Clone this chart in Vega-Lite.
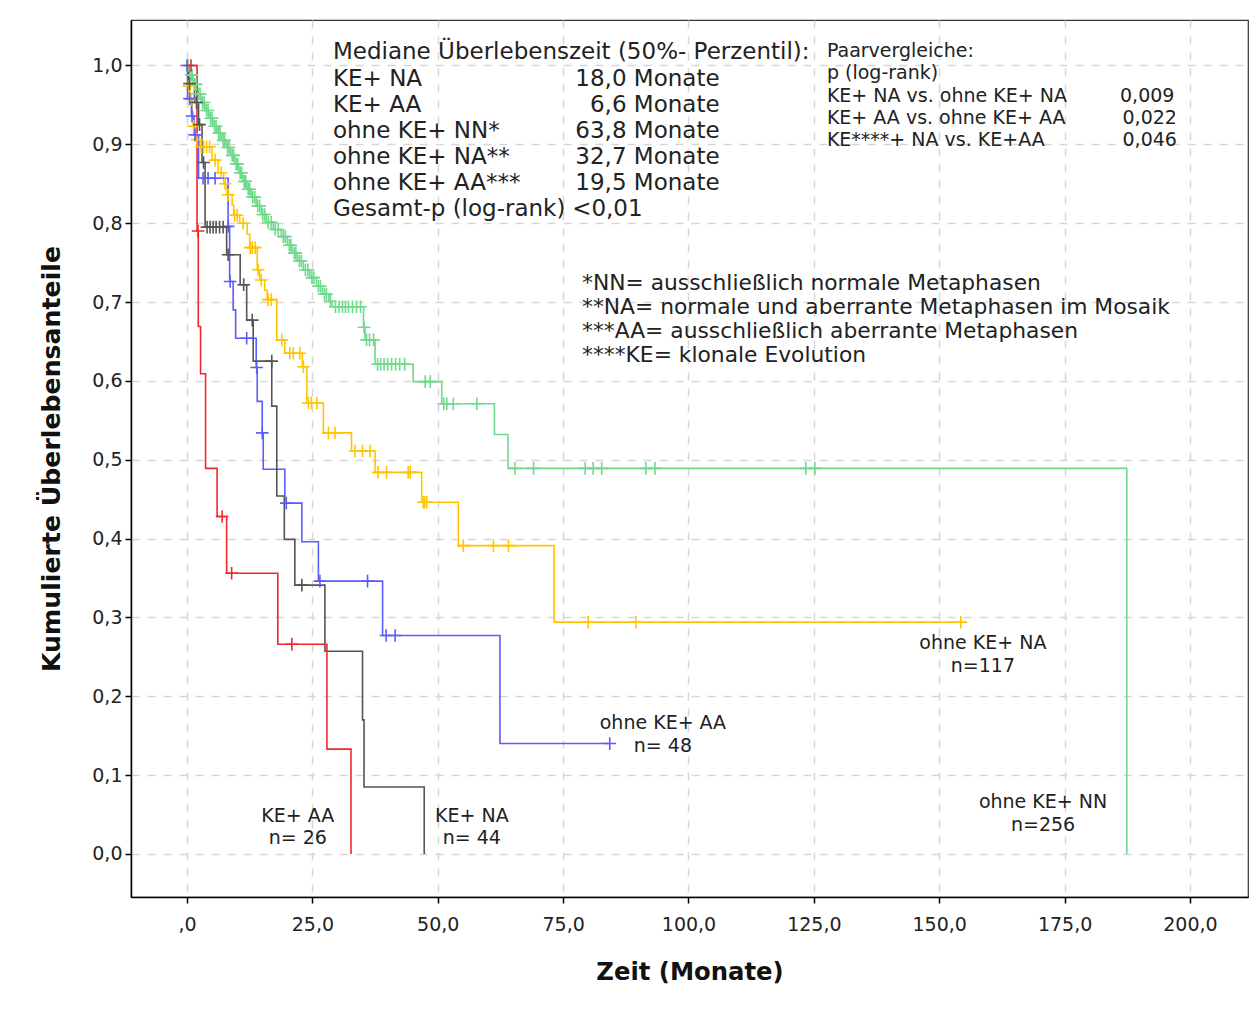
{
  "$schema": "https://vega.github.io/schema/vega-lite/v6.json",
  "width": 1117,
  "height": 877,
  "autosize": {"type": "none"},
  "padding": {"left": 131, "top": 20, "right": 12, "bottom": 113},
  "background": "white",
  "config": {
    "view": {"stroke": "#333333", "strokeWidth": 1.2},
    "font": "DejaVu Sans",
    "text": {"font": "DejaVu Sans", "color": "#222222"}
  },
  "datasets": {
    "steps": [
      {"g":"NN","t":0,"s":1.0},{"g":"NN","t":0.5,"s":0.988},{"g":"NN","t":1.2,"s":0.976},{"g":"NN","t":2.0,"s":0.964},{"g":"NN","t":2.8,"s":0.953},{"g":"NN","t":3.6,"s":0.943},{"g":"NN","t":4.4,"s":0.933},{"g":"NN","t":5.2,"s":0.923},{"g":"NN","t":6.0,"s":0.914},{"g":"NN","t":6.9,"s":0.905},{"g":"NN","t":7.8,"s":0.896},{"g":"NN","t":8.7,"s":0.886},{"g":"NN","t":9.5,"s":0.875},{"g":"NN","t":10.3,"s":0.864},{"g":"NN","t":11.1,"s":0.853},{"g":"NN","t":11.9,"s":0.843},{"g":"NN","t":12.8,"s":0.833},{"g":"NN","t":13.8,"s":0.822},{"g":"NN","t":14.8,"s":0.811},{"g":"NN","t":15.8,"s":0.801},{"g":"NN","t":17.2,"s":0.792},{"g":"NN","t":18.8,"s":0.783},{"g":"NN","t":20.0,"s":0.772},{"g":"NN","t":21.0,"s":0.762},{"g":"NN","t":22.0,"s":0.752},{"g":"NN","t":23.2,"s":0.741},{"g":"NN","t":24.5,"s":0.731},{"g":"NN","t":25.8,"s":0.72},{"g":"NN","t":27.0,"s":0.71},{"g":"NN","t":28.3,"s":0.701},{"g":"NN","t":29.0,"s":0.694},{"g":"NN","t":35.2,"s":0.668},{"g":"NN","t":35.5,"s":0.652},{"g":"NN","t":37.5,"s":0.621},{"g":"NN","t":45.1,"s":0.599},{"g":"NN","t":50.8,"s":0.571},{"g":"NN","t":61.3,"s":0.532},{"g":"NN","t":64.0,"s":0.489},{"g":"NN","t":187.4,"s":0.0},
      {"g":"NA","t":0,"s":1.0},{"g":"NA","t":0.3,"s":0.974},{"g":"NA","t":0.6,"s":0.957},{"g":"NA","t":1.0,"s":0.94},{"g":"NA","t":1.2,"s":0.923},{"g":"NA","t":1.6,"s":0.906},{"g":"NA","t":2.4,"s":0.897},{"g":"NA","t":5.0,"s":0.88},{"g":"NA","t":6.2,"s":0.864},{"g":"NA","t":7.3,"s":0.85},{"g":"NA","t":8.0,"s":0.836},{"g":"NA","t":9.0,"s":0.823},{"g":"NA","t":9.3,"s":0.81},{"g":"NA","t":10.5,"s":0.8},{"g":"NA","t":12.0,"s":0.786},{"g":"NA","t":12.5,"s":0.769},{"g":"NA","t":14.0,"s":0.741},{"g":"NA","t":14.5,"s":0.728},{"g":"NA","t":15.5,"s":0.715},{"g":"NA","t":16.0,"s":0.703},{"g":"NA","t":17.9,"s":0.652},{"g":"NA","t":19.5,"s":0.635},{"g":"NA","t":23.0,"s":0.618},{"g":"NA","t":23.9,"s":0.572},{"g":"NA","t":27.2,"s":0.534},{"g":"NA","t":32.8,"s":0.511},{"g":"NA","t":37.5,"s":0.484},{"g":"NA","t":46.8,"s":0.446},{"g":"NA","t":54.1,"s":0.391},{"g":"NA","t":73.2,"s":0.294},{"g":"NA","t":154.3,"s":0.294},
      {"g":"AA","t":0,"s":1.0},{"g":"AA","t":0.1,"s":0.958},{"g":"AA","t":0.9,"s":0.936},{"g":"AA","t":1.4,"s":0.912},{"g":"AA","t":2.3,"s":0.857},{"g":"AA","t":8.2,"s":0.796},{"g":"AA","t":8.5,"s":0.726},{"g":"AA","t":9.2,"s":0.69},{"g":"AA","t":9.7,"s":0.654},{"g":"AA","t":13.8,"s":0.617},{"g":"AA","t":14.0,"s":0.574},{"g":"AA","t":15.0,"s":0.534},{"g":"AA","t":15.2,"s":0.488},{"g":"AA","t":19.5,"s":0.445},{"g":"AA","t":22.9,"s":0.396},{"g":"AA","t":26.2,"s":0.346},{"g":"AA","t":39.0,"s":0.277},{"g":"AA","t":62.4,"s":0.14},{"g":"AA","t":84.3,"s":0.14},
      {"g":"KNA","t":0,"s":1.0},{"g":"KNA","t":0.3,"s":0.977},{"g":"KNA","t":1.5,"s":0.953},{"g":"KNA","t":2.3,"s":0.925},{"g":"KNA","t":3.0,"s":0.877},{"g":"KNA","t":3.6,"s":0.795},{"g":"KNA","t":7.9,"s":0.76},{"g":"KNA","t":10.6,"s":0.722},{"g":"KNA","t":11.9,"s":0.677},{"g":"KNA","t":13.2,"s":0.625},{"g":"KNA","t":16.9,"s":0.568},{"g":"KNA","t":17.9,"s":0.454},{"g":"KNA","t":19.4,"s":0.399},{"g":"KNA","t":21.5,"s":0.341},{"g":"KNA","t":27.5,"s":0.257},{"g":"KNA","t":35.0,"s":0.17},{"g":"KNA","t":35.3,"s":0.085},{"g":"KNA","t":47.3,"s":0.0},
      {"g":"KAA","t":0,"s":1.0},{"g":"KAA","t":2.0,"s":0.79},{"g":"KAA","t":2.25,"s":0.669},{"g":"KAA","t":2.7,"s":0.609},{"g":"KAA","t":3.7,"s":0.489},{"g":"KAA","t":6.0,"s":0.428},{"g":"KAA","t":7.9,"s":0.356},{"g":"KAA","t":18.1,"s":0.266},{"g":"KAA","t":27.9,"s":0.133},{"g":"KAA","t":32.7,"s":0.0}
    ],
    "censored": [
      {"g":"NN","t":0.2,"s":1.0},{"g":"NN","t":0.8,"s":0.988},{"g":"NN","t":1.0,"s":0.988},{"g":"NN","t":1.5,"s":0.976},{"g":"NN","t":1.8,"s":0.976},{"g":"NN","t":2.3,"s":0.964},{"g":"NN","t":2.6,"s":0.964},{"g":"NN","t":3.1,"s":0.953},{"g":"NN","t":3.4,"s":0.953},{"g":"NN","t":3.9,"s":0.943},{"g":"NN","t":4.2,"s":0.943},{"g":"NN","t":4.7,"s":0.933},{"g":"NN","t":5.0,"s":0.933},{"g":"NN","t":5.5,"s":0.923},{"g":"NN","t":5.8,"s":0.923},{"g":"NN","t":6.3,"s":0.914},{"g":"NN","t":6.6,"s":0.914},{"g":"NN","t":7.2,"s":0.905},{"g":"NN","t":7.5,"s":0.905},{"g":"NN","t":8.1,"s":0.896},{"g":"NN","t":8.4,"s":0.896},{"g":"NN","t":9.0,"s":0.886},{"g":"NN","t":9.3,"s":0.886},{"g":"NN","t":9.8,"s":0.875},{"g":"NN","t":10.1,"s":0.875},{"g":"NN","t":10.6,"s":0.864},{"g":"NN","t":10.9,"s":0.864},{"g":"NN","t":11.4,"s":0.853},{"g":"NN","t":11.7,"s":0.853},{"g":"NN","t":12.2,"s":0.843},{"g":"NN","t":12.5,"s":0.843},{"g":"NN","t":13.1,"s":0.833},{"g":"NN","t":13.5,"s":0.833},{"g":"NN","t":14.1,"s":0.822},{"g":"NN","t":14.5,"s":0.822},{"g":"NN","t":15.1,"s":0.811},{"g":"NN","t":15.5,"s":0.811},{"g":"NN","t":16.2,"s":0.801},{"g":"NN","t":16.8,"s":0.801},{"g":"NN","t":17.6,"s":0.792},{"g":"NN","t":18.2,"s":0.792},{"g":"NN","t":19.2,"s":0.783},{"g":"NN","t":19.6,"s":0.783},{"g":"NN","t":20.4,"s":0.772},{"g":"NN","t":20.7,"s":0.772},{"g":"NN","t":21.4,"s":0.762},{"g":"NN","t":21.7,"s":0.762},{"g":"NN","t":22.4,"s":0.752},{"g":"NN","t":22.8,"s":0.752},{"g":"NN","t":23.6,"s":0.741},{"g":"NN","t":24.1,"s":0.741},{"g":"NN","t":24.9,"s":0.731},{"g":"NN","t":25.3,"s":0.731},{"g":"NN","t":26.2,"s":0.72},{"g":"NN","t":26.6,"s":0.72},{"g":"NN","t":27.4,"s":0.71},{"g":"NN","t":27.8,"s":0.71},{"g":"NN","t":28.6,"s":0.701},{"g":"NN","t":29.6,"s":0.694},{"g":"NN","t":30.3,"s":0.694},{"g":"NN","t":31.0,"s":0.694},{"g":"NN","t":31.6,"s":0.694},{"g":"NN","t":32.2,"s":0.694},{"g":"NN","t":33.0,"s":0.694},{"g":"NN","t":33.8,"s":0.694},{"g":"NN","t":34.6,"s":0.694},{"g":"NN","t":35.3,"s":0.668},{"g":"NN","t":35.8,"s":0.652},{"g":"NN","t":36.4,"s":0.652},{"g":"NN","t":37.2,"s":0.652},{"g":"NN","t":38.0,"s":0.621},{"g":"NN","t":38.6,"s":0.621},{"g":"NN","t":39.3,"s":0.621},{"g":"NN","t":40.0,"s":0.621},{"g":"NN","t":40.8,"s":0.621},{"g":"NN","t":41.6,"s":0.621},{"g":"NN","t":42.4,"s":0.621},{"g":"NN","t":43.4,"s":0.621},{"g":"NN","t":47.5,"s":0.599},{"g":"NN","t":48.5,"s":0.599},{"g":"NN","t":51.2,"s":0.571},{"g":"NN","t":51.8,"s":0.571},{"g":"NN","t":53.1,"s":0.571},{"g":"NN","t":57.8,"s":0.571},{"g":"NN","t":65.4,"s":0.489},{"g":"NN","t":69.1,"s":0.489},{"g":"NN","t":79.4,"s":0.489},{"g":"NN","t":81.0,"s":0.489},{"g":"NN","t":82.7,"s":0.489},{"g":"NN","t":91.5,"s":0.489},{"g":"NN","t":93.3,"s":0.489},{"g":"NN","t":123.4,"s":0.489},{"g":"NN","t":125.2,"s":0.489},
      {"g":"NA","t":0.4,"s":0.974},{"g":"NA","t":0.8,"s":0.957},{"g":"NA","t":1.3,"s":0.923},{"g":"NA","t":2.0,"s":0.906},{"g":"NA","t":2.8,"s":0.897},{"g":"NA","t":3.3,"s":0.897},{"g":"NA","t":3.9,"s":0.897},{"g":"NA","t":4.5,"s":0.897},{"g":"NA","t":5.6,"s":0.88},{"g":"NA","t":6.8,"s":0.864},{"g":"NA","t":7.6,"s":0.85},{"g":"NA","t":8.2,"s":0.836},{"g":"NA","t":9.5,"s":0.81},{"g":"NA","t":10.0,"s":0.81},{"g":"NA","t":11.2,"s":0.8},{"g":"NA","t":12.6,"s":0.769},{"g":"NA","t":13.0,"s":0.769},{"g":"NA","t":13.6,"s":0.769},{"g":"NA","t":14.2,"s":0.741},{"g":"NA","t":14.8,"s":0.728},{"g":"NA","t":16.2,"s":0.703},{"g":"NA","t":16.8,"s":0.703},{"g":"NA","t":18.9,"s":0.652},{"g":"NA","t":20.5,"s":0.635},{"g":"NA","t":21.2,"s":0.635},{"g":"NA","t":22.5,"s":0.635},{"g":"NA","t":23.2,"s":0.618},{"g":"NA","t":24.2,"s":0.572},{"g":"NA","t":24.8,"s":0.572},{"g":"NA","t":25.9,"s":0.572},{"g":"NA","t":28.2,"s":0.534},{"g":"NA","t":29.5,"s":0.534},{"g":"NA","t":33.5,"s":0.511},{"g":"NA","t":35.0,"s":0.511},{"g":"NA","t":36.5,"s":0.511},{"g":"NA","t":38.1,"s":0.484},{"g":"NA","t":39.8,"s":0.484},{"g":"NA","t":44.1,"s":0.484},{"g":"NA","t":44.5,"s":0.484},{"g":"NA","t":47.1,"s":0.446},{"g":"NA","t":47.4,"s":0.446},{"g":"NA","t":47.8,"s":0.446},{"g":"NA","t":55.1,"s":0.391},{"g":"NA","t":61.1,"s":0.391},{"g":"NA","t":64.1,"s":0.391},{"g":"NA","t":80.0,"s":0.294},{"g":"NA","t":89.5,"s":0.294},{"g":"NA","t":154.3,"s":0.294},
      {"g":"AA","t":0,"s":1.0},{"g":"AA","t":0.5,"s":0.958},{"g":"AA","t":1.0,"s":0.936},{"g":"AA","t":1.6,"s":0.912},{"g":"AA","t":3.2,"s":0.857},{"g":"AA","t":4.2,"s":0.857},{"g":"AA","t":5.6,"s":0.857},{"g":"AA","t":8.2,"s":0.796},{"g":"AA","t":8.6,"s":0.726},{"g":"AA","t":11.9,"s":0.654},{"g":"AA","t":13.9,"s":0.617},{"g":"AA","t":15.0,"s":0.534},{"g":"AA","t":19.8,"s":0.445},{"g":"AA","t":26.5,"s":0.346},{"g":"AA","t":36.0,"s":0.346},{"g":"AA","t":39.7,"s":0.277},{"g":"AA","t":41.5,"s":0.277},{"g":"AA","t":84.3,"s":0.14},
      {"g":"KNA","t":0.5,"s":0.977},{"g":"KNA","t":1.9,"s":0.953},{"g":"KNA","t":2.5,"s":0.925},{"g":"KNA","t":3.3,"s":0.877},{"g":"KNA","t":4.0,"s":0.795},{"g":"KNA","t":4.6,"s":0.795},{"g":"KNA","t":5.2,"s":0.795},{"g":"KNA","t":5.8,"s":0.795},{"g":"KNA","t":6.5,"s":0.795},{"g":"KNA","t":7.2,"s":0.795},{"g":"KNA","t":8.2,"s":0.76},{"g":"KNA","t":11.3,"s":0.722},{"g":"KNA","t":13.0,"s":0.677},{"g":"KNA","t":16.9,"s":0.625},{"g":"KNA","t":22.9,"s":0.341},
      {"g":"KAA","t":0.8,"s":1.0},{"g":"KAA","t":2.2,"s":0.79},{"g":"KAA","t":7.0,"s":0.428},{"g":"KAA","t":8.9,"s":0.356},{"g":"KAA","t":20.9,"s":0.266}
    ],
    "labels": [
      {"b":"m","t":29.1,"s":1.0165,"txt":"Mediane Überlebenszeit (50%- Perzentil):"},
      {"b":"m","t":29.1,"s":0.9835,"txt":"KE+ NA"},
      {"b":"m","t":29.1,"s":0.9505,"txt":"KE+ AA"},
      {"b":"m","t":29.1,"s":0.9175,"txt":"ohne KE+ NN*"},
      {"b":"m","t":29.1,"s":0.8845,"txt":"ohne KE+ NA**"},
      {"b":"m","t":29.1,"s":0.8515,"txt":"ohne KE+ AA***"},
      {"b":"m","t":29.1,"s":0.8185,"txt":"Gesamt-p (log-rank)"},
      {"b":"m","t":76.8,"s":0.8185,"txt":"<0,01"},
      {"b":"mr","t":106.2,"s":0.9835,"txt":"18,0 Monate"},
      {"b":"mr","t":106.2,"s":0.9505,"txt":"6,6 Monate"},
      {"b":"mr","t":106.2,"s":0.9175,"txt":"63,8 Monate"},
      {"b":"mr","t":106.2,"s":0.8845,"txt":"32,7 Monate"},
      {"b":"mr","t":106.2,"s":0.8515,"txt":"19,5 Monate"},
      {"b":"n","t":78.76,"s":0.7246,"txt":"*NN= ausschließlich normale Metaphasen"},
      {"b":"n","t":78.76,"s":0.6942,"txt":"**NA= normale und aberrante Metaphasen im Mosaik"},
      {"b":"n","t":78.76,"s":0.6637,"txt":"***AA= ausschließlich aberrante Metaphasen"},
      {"b":"n","t":78.76,"s":0.6332,"txt":"****KE= klonale Evolution"},
      {"b":"p","t":127.6,"s":1.019,"txt":"Paarvergleiche:"},
      {"b":"p","t":127.6,"s":0.9911,"txt":"p (log-rank)"},
      {"b":"p","t":127.6,"s":0.9619,"txt":"KE+ NA vs. ohne KE+ NA"},
      {"b":"p","t":127.6,"s":0.934,"txt":"KE+ AA vs. ohne KE+ AA"},
      {"b":"p","t":127.6,"s":0.9061,"txt":"KE****+ NA vs. KE+AA"},
      {"b":"pr","t":196.9,"s":0.9619,"txt":"0,009"},
      {"b":"pr","t":197.4,"s":0.934,"txt":"0,022"},
      {"b":"pr","t":197.4,"s":0.9061,"txt":"0,046"},
      {"b":"c","t":158.7,"s":0.2678,"txt":"ohne KE+ NA"},
      {"b":"c","t":158.7,"s":0.2386,"txt":"n=117"},
      {"b":"c","t":94.9,"s":0.1662,"txt":"ohne KE+ AA"},
      {"b":"c","t":94.9,"s":0.1371,"txt":"n= 48"},
      {"b":"c","t":170.7,"s":0.066,"txt":"ohne KE+ NN"},
      {"b":"c","t":170.7,"s":0.0368,"txt":"n=256"},
      {"b":"c","t":22.1,"s":0.0482,"txt":"KE+ AA"},
      {"b":"c","t":22.1,"s":0.0203,"txt":"n= 26"},
      {"b":"c","t":56.8,"s":0.0482,"txt":"KE+ NA"},
      {"b":"c","t":56.8,"s":0.0203,"txt":"n= 44"}
    ]
  },
  "layer": [
    {
      "data": {"name": "steps"},
      "mark": {"type": "line", "interpolate": "step-after", "strokeWidth": 1.6},
      "encoding": {
        "x": {
          "field": "t", "type": "quantitative",
          "scale": {"domain": [-11.17, 211.57], "nice": false, "zero": false},
          "axis": {
            "values": [0, 25, 50, 75, 100, 125, 150, 175, 200],
            "labelExpr": "datum.value == 0 ? ',0' : replace(format(datum.value, '.1f'), '.', ',')",
            "grid": true, "gridDash": [8, 8], "gridColor": "#d6d6d6", "gridWidth": 1.5,
            "domainColor": "#000000", "domainWidth": 1.5, "tickColor": "#000000", "tickSize": 6, "tickWidth": 1.5,
            "labelFontSize": 19, "labelColor": "#222222", "labelPadding": 12, "labelFont": "DejaVu Sans",
            "title": "Zeit (Monate)", "titleFontSize": 24.3, "titleFontWeight": "bold", "titleColor": "#111111", "titlePadding": 26, "titleFont": "DejaVu Sans"
          }
        },
        "y": {
          "field": "s", "type": "quantitative",
          "scale": {"domain": [-0.0546, 1.0577], "nice": false, "zero": false},
          "axis": {
            "values": [0, 0.1, 0.2, 0.3, 0.4, 0.5, 0.6, 0.7, 0.8, 0.9, 1.0],
            "labelExpr": "replace(format(datum.value, '.1f'), '.', ',')",
            "grid": true, "gridDash": [8, 8], "gridColor": "#d6d6d6", "gridWidth": 1.5,
            "domainColor": "#000000", "domainWidth": 1.5, "tickColor": "#000000", "tickSize": 6, "tickWidth": 1.5,
            "labelFontSize": 19, "labelColor": "#222222", "labelPadding": 3, "labelFont": "DejaVu Sans",
            "title": "Kumulierte Überlebensanteile", "titleFontSize": 25.2, "titleFontWeight": "bold", "titleColor": "#111111", "titlePadding": 27, "titleFont": "DejaVu Sans"
          }
        },
        "color": {
          "field": "g", "type": "nominal",
          "scale": {"domain": ["NN", "NA", "AA", "KNA", "KAA"], "range": ["#6fd98c", "#ffc600", "#5c5cff", "#555555", "#f0282d"]},
          "legend": null
        }
      }
    },
    {
      "data": {"name": "censored"},
      "mark": {"type": "point", "shape": "M-1,0L1,0M0,-1L0,1", "size": 160, "strokeWidth": 1.6, "filled": false, "opacity": 1},
      "encoding": {
        "x": {"field": "t", "type": "quantitative"},
        "y": {"field": "s", "type": "quantitative"},
        "color": {"field": "g", "type": "nominal", "legend": null}
      }
    },
    {
      "data": {"name": "labels"},
      "transform": [{"filter": "datum.b == 'm'"}],
      "mark": {"type": "text", "align": "left", "baseline": "middle", "fontSize": 23},
      "encoding": {
        "x": {"field": "t", "type": "quantitative"},
        "y": {"field": "s", "type": "quantitative"},
        "text": {"field": "txt"}
      }
    },
    {
      "data": {"name": "labels"},
      "transform": [{"filter": "datum.b == 'mr'"}],
      "mark": {"type": "text", "align": "right", "baseline": "middle", "fontSize": 23},
      "encoding": {
        "x": {"field": "t", "type": "quantitative"},
        "y": {"field": "s", "type": "quantitative"},
        "text": {"field": "txt"}
      }
    },
    {
      "data": {"name": "labels"},
      "transform": [{"filter": "datum.b == 'n'"}],
      "mark": {"type": "text", "align": "left", "baseline": "middle", "fontSize": 21.8},
      "encoding": {
        "x": {"field": "t", "type": "quantitative"},
        "y": {"field": "s", "type": "quantitative"},
        "text": {"field": "txt"}
      }
    },
    {
      "data": {"name": "labels"},
      "transform": [{"filter": "datum.b == 'p'"}],
      "mark": {"type": "text", "align": "left", "baseline": "middle", "fontSize": 19},
      "encoding": {
        "x": {"field": "t", "type": "quantitative"},
        "y": {"field": "s", "type": "quantitative"},
        "text": {"field": "txt"}
      }
    },
    {
      "data": {"name": "labels"},
      "transform": [{"filter": "datum.b == 'pr'"}],
      "mark": {"type": "text", "align": "right", "baseline": "middle", "fontSize": 19},
      "encoding": {
        "x": {"field": "t", "type": "quantitative"},
        "y": {"field": "s", "type": "quantitative"},
        "text": {"field": "txt"}
      }
    },
    {
      "data": {"name": "labels"},
      "transform": [{"filter": "datum.b == 'c'"}],
      "mark": {"type": "text", "align": "center", "baseline": "middle", "fontSize": 19},
      "encoding": {
        "x": {"field": "t", "type": "quantitative"},
        "y": {"field": "s", "type": "quantitative"},
        "text": {"field": "txt"}
      }
    }
  ]
}
